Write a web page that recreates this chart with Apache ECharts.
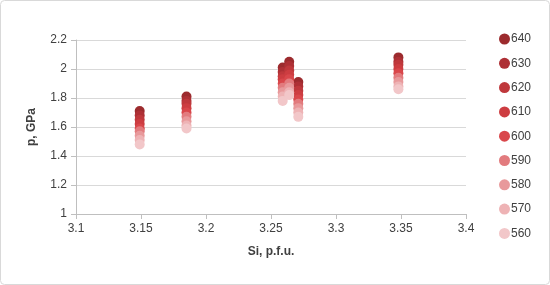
<!DOCTYPE html>
<html>
<head>
<meta charset="utf-8">
<script src="https://cdn.jsdelivr.net/npm/echarts@6/dist/echarts.min.js"></script>
<style>
  html, body { margin: 0; padding: 0; background: #fff; }
  #chart { width: 550px; height: 285px; }
</style>
</head>
<body>
<div id="chart"></div>
<script>
var chartDom = document.getElementById('chart');
var myChart = echarts.init(chartDom);

// Si (p.f.u.) of each analysed column
const siValues = [3.149, 3.185, 3.259, 3.264, 3.271, 3.348];

// temperature series, p (GPa) at each Si value
const temps = ['640', '630', '620', '610', '600', '590', '580', '570', '560'];
const p640 = [1.71, 1.81, 2.01, 2.05, 1.91, 2.08];
const p630 = [1.68, 1.78, 1.98, 2.02, 1.88, 2.05];
const p620 = [1.65, 1.76, 1.95, 1.99, 1.85, 2.03];
const p610 = [1.62, 1.73, 1.93, 1.96, 1.82, 2.00];
const p600 = [1.59, 1.70, 1.90, 1.93, 1.79, 1.97];
const p590 = [1.57, 1.67, 1.87, 1.90, 1.76, 1.94];
const p580 = [1.54, 1.64, 1.84, 1.87, 1.73, 1.91];
const p570 = [1.51, 1.61, 1.81, 1.84, 1.70, 1.88];
const p560 = [1.48, 1.59, 1.78, 1.82, 1.67, 1.86];
const pressures = [p640, p630, p620, p610, p600, p590, p580, p570, p560];

const colors = ['#9c2b2e', '#ae3035', '#bf383c', '#cd3d41', '#d9474b', '#e27b7e', '#e8999b', '#eeb3b5', '#f2c7c9'];

const font = 'Liberation Sans';

var series = temps.map(function (t, i) {
  return {
    name: t,
    type: 'scatter',
    symbol: 'circle',
    symbolSize: 10,
    itemStyle: { color: colors[i], opacity: 1 },
    data: siValues.map(function (x, j) { return [x, pressures[i][j]]; })
  };
});

var option = {
  animation: false,
  textStyle: { fontFamily: font },
  graphic: [{
    type: 'rect',
    shape: { x: 0.5, y: 0.5, width: 549, height: 284, r: 4 },
    style: { fill: 'none', stroke: '#d9d9d9', lineWidth: 1 },
    silent: true
  }],
  grid: { left: 76, right: 84, top: 40, bottom: 71 },
  legend: {
    orient: 'vertical',
    left: 494,
    top: 28,
    itemWidth: 11,
    itemHeight: 11,
    itemGap: 12.3,
    icon: 'circle',
    textStyle: { fontSize: 12, color: '#404040', fontFamily: font, padding: [0, 0, 0, -4] },
    data: temps
  },
  xAxis: {
    type: 'value',
    min: 3.1,
    max: 3.4,
    interval: 0.05,
    name: 'Si, p.f.u.',
    nameLocation: 'middle',
    nameGap: 32,
    nameTextStyle: { fontSize: 12, fontWeight: 'bold', color: '#404040' },
    axisLine: { show: true, lineStyle: { color: '#bfbfbf' } },
    axisTick: { show: true, length: 5, lineStyle: { color: '#bfbfbf' } },
    axisLabel: {
      fontSize: 12, color: '#404040', margin: 9,
      formatter: function (v) { return String(Math.round(v * 100) / 100); }
    },
    splitLine: { show: false }
  },
  yAxis: {
    type: 'value',
    min: 1,
    max: 2.2,
    interval: 0.2,
    name: 'p, GPa',
    nameLocation: 'middle',
    nameGap: 38,
    nameTextStyle: { fontSize: 12, fontWeight: 'bold', color: '#404040' },
    axisLine: { show: true, lineStyle: { color: '#bfbfbf' } },
    axisTick: { show: true, length: 5, lineStyle: { color: '#bfbfbf' } },
    axisLabel: {
      fontSize: 12, color: '#404040', margin: 9,
      formatter: function (v) { return String(Math.round(v * 10) / 10); }
    },
    splitLine: { show: true, lineStyle: { color: '#d9d9d9' } }
  },
  series: series
};

option && myChart.setOption(option);
</script>
</body>
</html>
